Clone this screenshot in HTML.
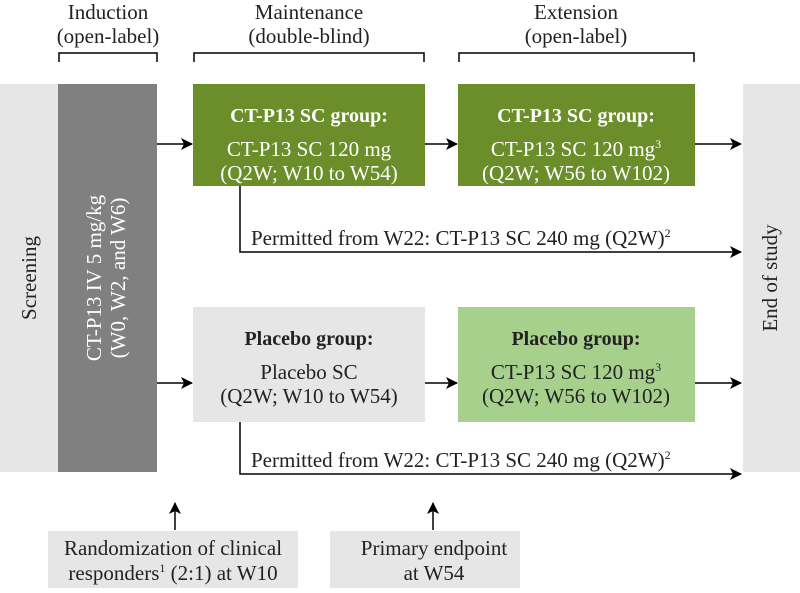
<!DOCTYPE html>
<html><head><meta charset="utf-8"><style>
body{margin:0;background:#fff}
svg text{font-family:"Liberation Serif",serif;}
</style></head><body>
<svg width="800" height="588" viewBox="0 0 800 588" xmlns="http://www.w3.org/2000/svg">
<defs><marker id="a" markerWidth="12" markerHeight="12" refX="11" refY="6" orient="auto" markerUnits="userSpaceOnUse"><path d="M0,0 L12,6 L0,12 L3,6z" fill="#000"/></marker></defs>
<g font-size="21" text-anchor="middle" fill="#222">
<text x="108" y="19">Induction</text><text x="108" y="43">(open-label)</text>
<text x="309" y="19">Maintenance</text><text x="309" y="43">(double-blind)</text>
<text x="576" y="19">Extension</text><text x="576" y="43">(open-label)</text>
</g>
<g stroke="#000" stroke-width="1.5" fill="none">
<path d="M59,62 V53 H157 V62"/><path d="M194,62 V53 H424 V62"/><path d="M459,62 V53 H694 V62"/>
</g>
<rect x="0" y="84" width="58" height="388" fill="#e6e6e6"/>
<rect x="58" y="84" width="99" height="388" fill="#808080"/>
<rect x="743" y="84" width="57" height="388" fill="#e6e6e6"/>
<text transform="translate(36,278) rotate(-90)" font-size="21" text-anchor="middle" fill="#222">Screening</text>
<text transform="translate(106,278) rotate(-90)" font-size="21" text-anchor="middle" fill="#fff"><tspan x="0" y="-5">CT-P13 IV 5 mg/kg</tspan><tspan x="0" y="19">(W0, W2, and W6)</tspan></text>
<text transform="translate(777,278) rotate(-90)" font-size="21" text-anchor="middle" fill="#222">End of study</text>
<rect x="193" y="84" width="232" height="102" fill="#6b8e2a"/>
<rect x="458" y="84" width="237" height="102" fill="#6b8e2a"/>
<rect x="193" y="307" width="232" height="115" fill="#e6e6e6"/>
<rect x="458" y="307" width="237" height="115" fill="#a8d08d"/>
<g font-size="21" text-anchor="middle" fill="#fff">
<text x="309" y="122" font-weight="bold" font-size="20">CT-P13 SC group:</text>
<text x="309" y="156">CT-P13 SC 120 mg</text><text x="309" y="180">(Q2W; W10 to W54)</text>
<text x="576" y="122" font-weight="bold" font-size="20">CT-P13 SC group:</text>
<text x="576" y="156">CT-P13 SC 120 mg<tspan font-size="12" dy="-8">3</tspan></text><text x="576" y="180">(Q2W; W56 to W102)</text>
</g>
<g font-size="21" text-anchor="middle" fill="#222">
<text x="309" y="345" font-weight="bold" font-size="20">Placebo group:</text>
<text x="309" y="379">Placebo SC</text><text x="309" y="403">(Q2W; W10 to W54)</text>
<text x="576" y="345" font-weight="bold" font-size="20">Placebo group:</text>
<text x="576" y="379">CT-P13 SC 120 mg<tspan font-size="12" dy="-8">3</tspan></text><text x="576" y="403">(Q2W; W56 to W102)</text>
</g>
<g stroke="#000" stroke-width="1.5" fill="none" marker-end="url(#a)">
<path d="M157,144 H192"/><path d="M425,144 H457"/><path d="M695,144 H741"/>
<path d="M157,383 H192"/><path d="M425,383 H457"/><path d="M695,383 H741"/>
<path d="M240,186 V252 H741"/><path d="M240,422 V474 H741"/>
<path d="M175,530 V503"/><path d="M433,530 V503"/>
</g>
<g font-size="21" fill="#222">
<text x="251" y="245">Permitted from W22: CT-P13 SC 240 mg (Q2W)<tspan font-size="12" dy="-8">2</tspan></text>
<text x="251" y="467">Permitted from W22: CT-P13 SC 240 mg (Q2W)<tspan font-size="12" dy="-8">2</tspan></text>
</g>
<rect x="48" y="531" width="250" height="57" fill="#e6e6e6"/>
<rect x="330" y="531" width="190" height="57" fill="#e6e6e6"/>
<g font-size="21" text-anchor="middle" fill="#222">
<text x="173" y="555">Randomization of clinical</text>
<text x="173" y="580">responders<tspan font-size="12" dy="-8">1</tspan><tspan dy="8"> (2:1) at W10</tspan></text>
<text x="434" y="555">Primary endpoint</text><text x="434" y="580">at W54</text>
</g>
</svg>
</body></html>
